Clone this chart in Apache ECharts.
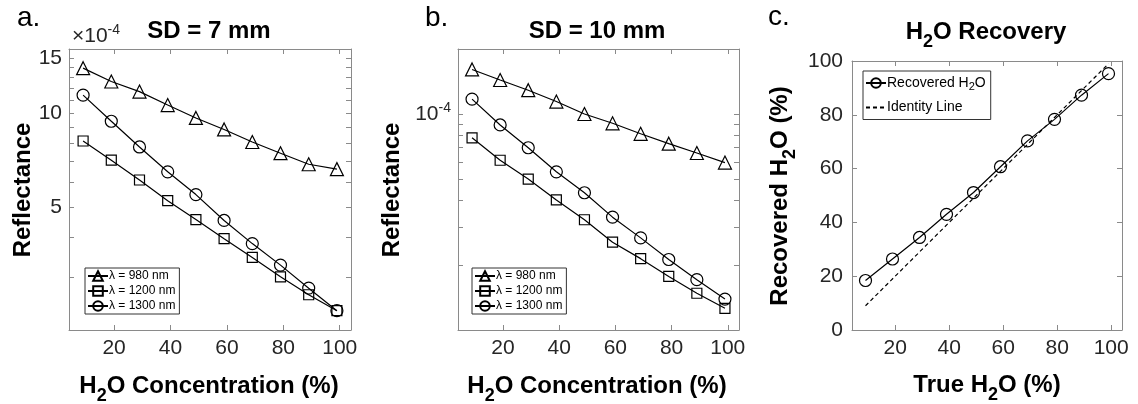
<!DOCTYPE html>
<html>
<head>
<meta charset="utf-8">
<script src="https://cdn.jsdelivr.net/npm/echarts@6/dist/echarts.min.js"></script>
<style>
  html, body { margin: 0; padding: 0; background: #fff; }
  #chart { width: 1138px; height: 404px; }
</style>
</head>
<body>
<div id="chart"></div>
<script>
// ---------------- data ----------------
const concentration = [9, 19, 29, 39, 49, 59, 69, 79, 89, 99];

const sd7_980  = [13.9e-4, 12.6e-4, 11.7e-4, 10.6e-4, 9.64e-4, 8.86e-4, 8.08e-4, 7.44e-4, 6.86e-4, 6.62e-4];
const sd7_1200 = [8.14e-4, 7.07e-4, 6.11e-4, 5.25e-4, 4.57e-4, 3.97e-4, 3.46e-4, 3.00e-4, 2.63e-4, 2.34e-4];
const sd7_1300 = [11.4e-4, 9.41e-4, 7.79e-4, 6.49e-4, 5.49e-4, 4.54e-4, 3.83e-4, 3.27e-4, 2.76e-4, 2.34e-4];

const sd10_980  = [1.608e-4, 1.437e-4, 1.289e-4, 1.142e-4, 1.00e-4, 0.906e-4, 0.810e-4, 0.729e-4, 0.660e-4, 0.596e-4];
const sd10_1200 = [0.776e-4, 0.611e-4, 0.500e-4, 0.400e-4, 0.324e-4, 0.255e-4, 0.214e-4, 0.177e-4, 0.148e-4, 0.126e-4];
const sd10_1300 = [1.172e-4, 0.890e-4, 0.698e-4, 0.540e-4, 0.432e-4, 0.333e-4, 0.267e-4, 0.212e-4, 0.171e-4, 0.139e-4];

const trueH2O      = [9, 19, 29, 39, 49, 59, 69, 79, 89, 99];
const recoveredH2O = [18.4, 26.4, 34.4, 43.0, 51.1, 60.7, 70.3, 78.3, 87.3, 95.3];
const identityX = [9, 99];
const identityY = [9, 99];

const xTickValues  = [20, 40, 60, 80, 100];
const yLabelsA     = [5e-4, 10e-4, 15e-4];
const yTicksA      = [3e-4, 4e-4, 5e-4, 6e-4, 7e-4, 8e-4, 9e-4, 10e-4, 11e-4, 12e-4, 13e-4, 14e-4, 15e-4, 16e-4];
const yLabelsB     = [1e-4];
const yTicksB      = [2e-5, 3e-5, 4e-5, 5e-5, 6e-5, 7e-5, 8e-5, 9e-5, 1e-4, 2e-4];
const yTicksC      = [0, 20, 40, 60, 80, 100];

const names = ['λ = 980 nm', 'λ = 1200 nm', 'λ = 1300 nm'];

// ---------------- styling ----------------
const FONT = '"Liberation Sans", Arial, Helvetica, sans-serif';
const AX = '#8a8a8a';
const TXT = '#262626';

function pairs(xs, ys) { return xs.map((x, i) => [x, ys[i]]); }

function xAxesFor(gi) {
  const common = {
    type: 'value', gridIndex: gi, min: 4, max: 104,
    axisLine: { show: true, onZero: false, lineStyle: { color: AX, width: 1 } },
    splitLine: { show: false }, minorTick: { show: false }
  };
  return [
    Object.assign({}, common, {
      position: 'bottom',
      axisTick: { show: true, inside: true, length: 5, customValues: xTickValues, lineStyle: { color: AX } },
      axisLabel: { show: true, customValues: xTickValues, margin: 8, fontSize: 21, color: TXT, fontFamily: FONT }
    }),
    Object.assign({}, common, {
      position: 'top',
      axisTick: { show: true, inside: true, length: 5, customValues: xTickValues, lineStyle: { color: AX } },
      axisLabel: { show: false }
    })
  ];
}

function yAxesFor(gi, base, ticks, labelOpts) {
  const common = Object.assign({
    gridIndex: gi,
    axisLine: { show: true, onZero: false, lineStyle: { color: AX, width: 1 } },
    splitLine: { show: false }, minorTick: { show: false }
  }, base);
  return [
    Object.assign({}, common, {
      position: 'left',
      axisTick: { show: true, inside: true, length: 5, customValues: ticks, lineStyle: { color: AX } },
      axisLabel: Object.assign({ show: true, margin: 7, fontSize: 21, color: TXT, fontFamily: FONT }, labelOpts)
    }),
    Object.assign({}, common, {
      position: 'right',
      axisTick: { show: true, inside: true, length: 5, customValues: ticks, lineStyle: { color: AX } },
      axisLabel: { show: false }
    })
  ];
}

const yA = yAxesFor(0, { type: 'log', logBase: 10, min: 2.03e-4, max: 16e-4 }, yTicksA,
  { customValues: yLabelsA, formatter: v => String(Math.round(v * 1e4)) });
const yB = yAxesFor(1, { type: 'log', logBase: 10, min: 1e-5, max: 2e-4 }, yTicksB,
  { customValues: yLabelsB, formatter: () => '10{sup|-4}',
    rich: { sup: { fontSize: 14, color: TXT, fontFamily: FONT, padding: [0, 0, 12, 0] } } });
const yC = yAxesFor(2, { type: 'value', min: 0, max: 100 }, yTicksC,
  { customValues: yTicksC, margin: 9 });

function lineSeries(name, xi, yi, data, symbol, size) {
  return {
    name, type: 'line', xAxisIndex: xi, yAxisIndex: yi, data,
    symbol, symbolSize: size, showSymbol: true,
    lineStyle: { color: '#000', width: 1.2 },
    itemStyle: { color: 'rgba(0,0,0,0)', borderColor: '#000', borderWidth: 1.2 },
    emphasis: { disabled: true }, animation: false
  };
}

const series = [
  lineSeries(names[0], 0, 0, pairs(concentration, sd7_980), 'triangle', 13),
  lineSeries(names[1], 0, 0, pairs(concentration, sd7_1200), 'rect', 10),
  lineSeries(names[2], 0, 0, pairs(concentration, sd7_1300), 'circle', 12),
  lineSeries(names[0], 2, 2, pairs(concentration, sd10_980), 'triangle', 13),
  lineSeries(names[1], 2, 2, pairs(concentration, sd10_1200), 'rect', 10),
  lineSeries(names[2], 2, 2, pairs(concentration, sd10_1300), 'circle', 12),
  lineSeries('Recovered H2O', 4, 4, pairs(trueH2O, recoveredH2O), 'circle', 12),
  {
    name: 'Identity Line', type: 'line', xAxisIndex: 4, yAxisIndex: 4,
    data: pairs(identityX, identityY), symbol: 'none', showSymbol: false,
    lineStyle: { color: '#000', width: 1.2, type: [4, 3] },
    itemStyle: { color: 'rgba(0,0,0,0)', borderWidth: 0 },
    emphasis: { disabled: true }, animation: false
  }
];

function legendAt(left, top, data, fontSize, gap, pad) {
  return {
    data, left, top, orient: 'vertical', itemWidth: 20, itemHeight: 12, itemGap: gap,
    padding: pad, borderColor: '#333', borderWidth: 1, backgroundColor: '#fff',
    selectedMode: false,
    textStyle: { fontSize, color: '#000', fontFamily: FONT, padding: [0, 0, 0, -4],
      rich: { s: { fontSize: fontSize - 3, color: '#000', fontFamily: FONT, padding: [8, 0, 0, 0] } } },
    formatter: n => n === 'Recovered H2O' ? 'Recovered H{s|2}O' : n
  };
}

function label(x, y, text, opts) {
  opts = opts || {};
  const fs = opts.fontSize || 24;
  const fw = opts.fontWeight || 'bold';
  return {
    type: 'text', x, y, rotation: opts.rotation || 0, silent: true,
    style: {
      text, fill: opts.fill || '#000', fontSize: fs, fontWeight: fw, fontFamily: FONT,
      align: opts.align || 'center', verticalAlign: 'middle',
      rich: {
        sub: { fontSize: Math.round(fs * 0.75), fontWeight: fw, fontFamily: FONT, fill: opts.fill || '#000', padding: [20, 0, 0, 0] },
        sup: { fontSize: 14, fontWeight: fw, fontFamily: FONT, fill: opts.fill || '#000', padding: [0, 0, 12, 0] }
      }
    }
  };
}

const graphics = [
  label(17, 18, 'a.', { fontSize: 28, fontWeight: 'normal', align: 'left' }),
  label(425, 18, 'b.', { fontSize: 28, fontWeight: 'normal', align: 'left' }),
  label(768, 17, 'c.', { fontSize: 28, fontWeight: 'normal', align: 'left' }),
  label(72, 36, '×10{sup|-4}', { fontSize: 21, fontWeight: 'normal', align: 'left', fill: TXT }),
  label(209, 31, 'SD = 7 mm'),
  label(597, 31, 'SD = 10 mm'),
  label(986, 32, 'H{sub|2}O Recovery'),
  label(209, 386, 'H{sub|2}O Concentration (%)'),
  label(597, 386, 'H{sub|2}O Concentration (%)'),
  label(987, 385, 'True H{sub|2}O (%)'),
  label(23, 190, 'Reflectance', { rotation: Math.PI / 2 }),
  label(392, 190, 'Reflectance', { rotation: Math.PI / 2 }),
  label(780, 196, 'Recovered H{sub|2}O (%)', { rotation: Math.PI / 2 })
];

const option = {
  backgroundColor: '#fff',
  animation: false,
  color: ['#000'],
  grid: [
    { left: 69, top: 49, width: 282, height: 281 },
    { left: 458, top: 49, width: 281, height: 281 },
    { left: 852, top: 61, width: 270, height: 269 }
  ],
  xAxis: [].concat(xAxesFor(0), xAxesFor(1), xAxesFor(2)),
  yAxis: [].concat(yA, yB, yC),
  legend: [
    legendAt(85, 268, names, 12, 3, [2, 4, 2, 2]),
    legendAt(472, 268, names, 12, 3, [2, 4, 2, 2]),
    legendAt(863, 71, ['Recovered H2O', 'Identity Line'], 14, 8, [5, 5, 5, 2])
  ],
  series,
  graphic: graphics
};

const chart = echarts.init(document.getElementById('chart'), null, { renderer: 'canvas' });
chart.setOption(option);
</script>
</body>
</html>
